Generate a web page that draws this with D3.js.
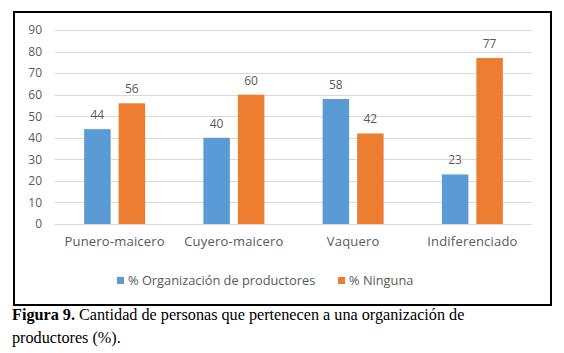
<!DOCTYPE html>
<html>
<head>
<meta charset="utf-8">
<script src="https://cdn.jsdelivr.net/npm/d3@7"></script>
<style>
  body { margin: 0; background: #fff; }
  svg { display: block; }
</style>
</head>
<body>
<div id="chart"></div>
<script>
const categories = ["Punero-maicero", "Cuyero-maicero", "Vaquero", "Indiferenciado"];
const seriesNames = ["% Organización de productores", "% Ninguna"];
const organizacion = [44, 40, 58, 23];
const ninguna = [56, 60, 42, 77];
const yTicks = [0, 10, 20, 30, 40, 50, 60, 70, 80, 90];
const colors = ["#5B9BD5", "#ED7D31"];

(function() {
  const width = 564, height = 353;
  const plot = { left: 55, right: 532, top: 30, bottom: 224 };
  const font = "'Open Sans', sans-serif";
  const textColor = "#595959";

  const svg = d3.select("#chart").append("svg")
    .attr("width", width)
    .attr("height", height);

  // chart frame
  svg.append("rect")
    .attr("x", 14).attr("y", 12)
    .attr("width", 537).attr("height", 293)
    .attr("fill", "none")
    .attr("stroke", "#000")
    .attr("stroke-width", 2);

  const x0 = d3.scaleBand()
    .domain(categories)
    .range([plot.left, plot.right])
    .padding(0);

  const groupW = 61;
  const x1 = d3.scaleBand()
    .domain(seriesNames)
    .range([(x0.bandwidth() - groupW) / 2, (x0.bandwidth() + groupW) / 2])
    .paddingInner(0.232);

  const y = d3.scaleLinear()
    .domain([0, 90])
    .range([plot.bottom, plot.top]);

  // grid lines
  svg.append("g")
    .selectAll("line")
    .data(yTicks)
    .join("line")
    .attr("x1", plot.left).attr("x2", plot.right)
    .attr("y1", d => Math.round(y(d)) + 0.5)
    .attr("y2", d => Math.round(y(d)) + 0.5)
    .attr("stroke", "#d9d9d9")
    .attr("stroke-width", 1);

  // y axis labels
  const yAxis = svg.append("g")
    .attr("transform", `translate(${plot.left - 13},0)`)
    .call(d3.axisLeft(y).tickValues(yTicks).tickSize(0).tickPadding(0));
  yAxis.select(".domain").remove();
  yAxis.selectAll("text")
    .attr("font-family", font)
    .attr("font-size", "12px")
    .attr("fill", textColor);

  // x axis labels
  const xAxis = svg.append("g")
    .attr("transform", `translate(0,${plot.bottom})`)
    .call(d3.axisBottom(x0).tickSize(0).tickPadding(0));
  xAxis.select(".domain").remove();
  xAxis.selectAll("text")
    .attr("dy", null)
    .attr("y", 22)
    .attr("font-family", font)
    .attr("font-size", "13px")
    .attr("letter-spacing", "0.2px")
    .attr("fill", textColor);

  const rows = categories.map((c, i) => ({
    cat: c,
    vals: [organizacion[i], ninguna[i]]
  }));

  const groups = svg.append("g")
    .selectAll("g")
    .data(rows)
    .join("g")
    .attr("transform", d => `translate(${x0(d.cat)},0)`);

  groups.selectAll("rect")
    .data(d => d.vals.map((v, j) => ({ key: seriesNames[j], value: v, j })))
    .join("rect")
    .attr("x", d => x1(d.key))
    .attr("y", d => y(d.value))
    .attr("width", x1.bandwidth())
    .attr("height", d => y(0) - y(d.value))
    .attr("fill", d => colors[d.j]);

  groups.selectAll("text.val")
    .data(d => d.vals.map((v, j) => ({ key: seriesNames[j], value: v, j })))
    .join("text")
    .attr("class", "val")
    .attr("x", d => x1(d.key) + x1.bandwidth() / 2)
    .attr("y", d => y(d.value) - 10)
    .attr("text-anchor", "middle")
    .attr("font-family", font)
    .attr("font-size", "12px")
    .attr("fill", textColor)
    .text(d => d.value);

  // legend
  const legendX = [117, 338];
  const legend = svg.append("g")
    .selectAll("g")
    .data(seriesNames)
    .join("g")
    .attr("transform", (d, i) => `translate(${legendX[i]},277)`);
  legend.append("rect")
    .attr("width", 7).attr("height", 7)
    .attr("fill", (d, i) => colors[i]);
  legend.append("text")
    .attr("x", 11).attr("y", 7.5)
    .attr("font-family", font)
    .attr("font-size", "12.8px")
    .attr("fill", textColor)
    .text(d => d);

  // caption
  const caption = svg.append("text")
    .attr("font-family", "'Liberation Serif', 'Times New Roman', serif")
    .attr("font-size", "16.2px")
    .attr("fill", "#000");
  const l1 = caption.append("tspan").attr("x", 12).attr("y", 320);
  l1.append("tspan").attr("font-weight", "bold").text("Figura 9.");
  l1.append("tspan").text(" Cantidad de personas que pertenecen a una organización de");
  caption.append("tspan").attr("x", 12).attr("y", 343).text("productores (%).");
})();
</script>
</body>
</html>
